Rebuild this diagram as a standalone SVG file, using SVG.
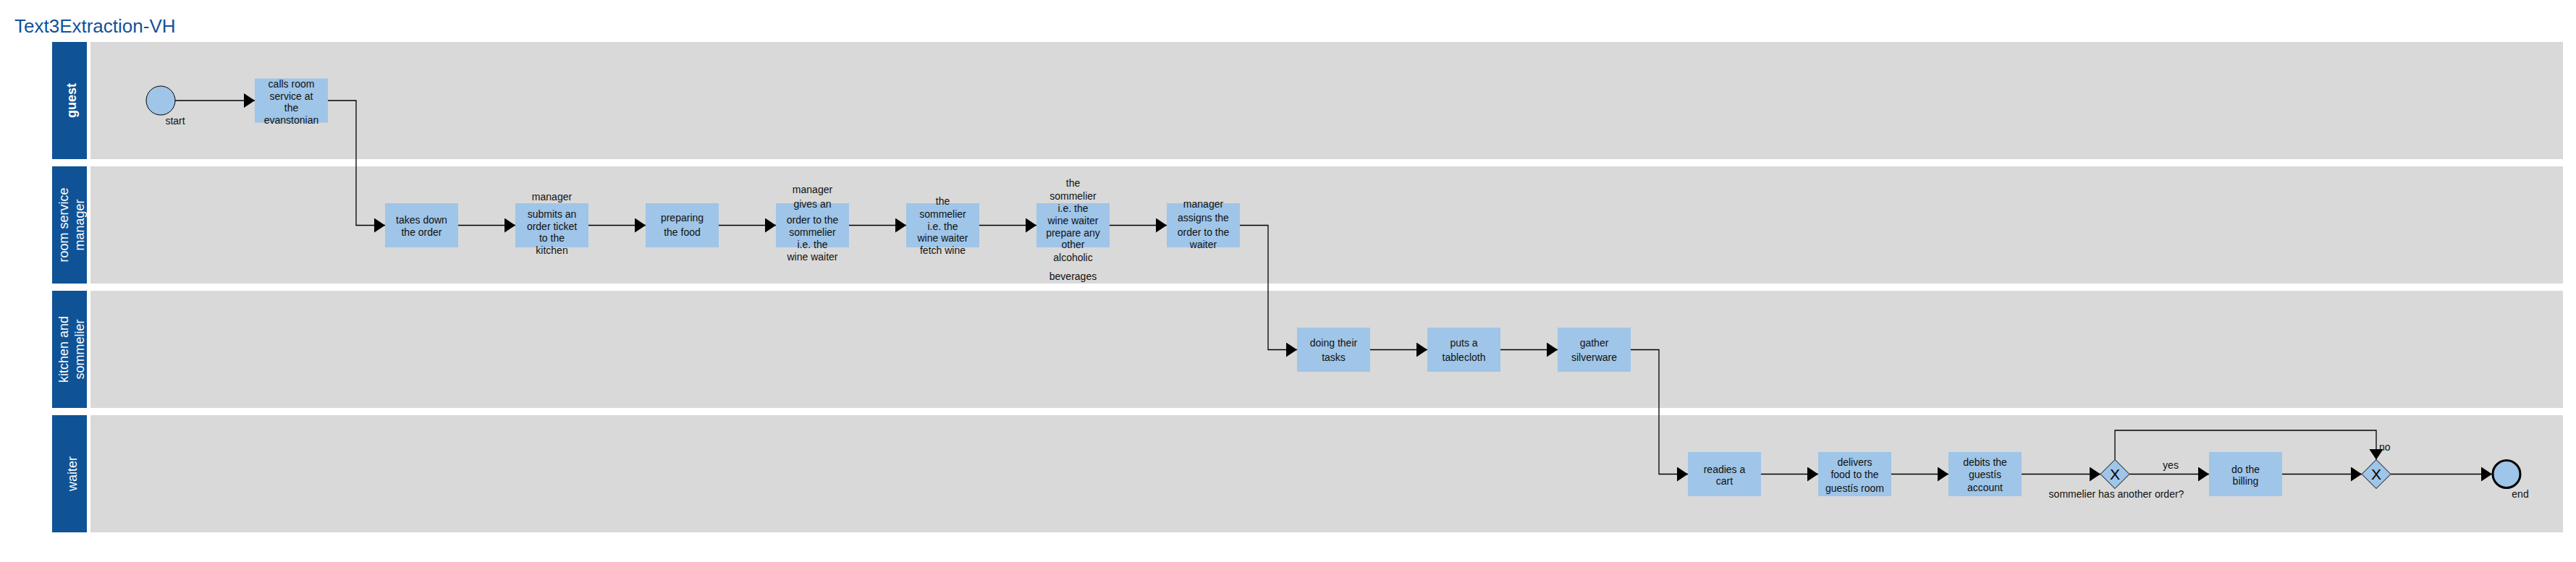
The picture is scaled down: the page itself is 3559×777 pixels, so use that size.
<svg xmlns="http://www.w3.org/2000/svg" width="3559" height="777" viewBox="0 0 3559 777">
<style>
.lane{fill:#D9D9D9}
.hdr{fill:#0F5396}
.hl{font-family:"Liberation Sans",Arial,sans-serif;font-size:18px;fill:#FFFFFF}
.task{fill:#9FC5E8}
.t{font-family:"Liberation Sans",Arial,sans-serif;font-size:14px;fill:#111111;text-anchor:middle}
.lbl{font-family:"Liberation Sans",Arial,sans-serif;font-size:14px;fill:#111111}
.gw{fill:#9FC5E8;stroke:#000;stroke-width:1}
.gx{font-family:"Liberation Sans",Arial,sans-serif;font-size:21px;fill:#000;text-anchor:middle}
.edge{fill:none;stroke:#000;stroke-width:1.3}
.title{font-family:"Liberation Sans",Arial,sans-serif;font-size:26px;fill:#12529A}
</style>
<defs>
<marker id="ah" markerUnits="userSpaceOnUse" markerWidth="15" markerHeight="20" refX="15" refY="10" orient="auto">
<path d="M0,0 L15,10 L0,20 Z" fill="#000"/>
</marker>
</defs>
<rect width="3559" height="777" fill="#FFFFFF"/>
<text class="title" x="20" y="45">Text3Extraction-VH</text>

<g id="lane-guest">
<rect class="lane" x="125" y="58" width="3416" height="162"/>
<rect class="hdr" x="72" y="58" width="48" height="162"/>
<text class="hl" text-anchor="middle" font-weight="bold" font-size="17" transform="translate(105,139) rotate(-90)">guest</text>
</g>
<g id="lane-rsm">
<rect class="lane" x="125" y="230" width="3416" height="162"/>
<rect class="hdr" x="72" y="230" width="48" height="162"/>
<text class="hl" text-anchor="middle" transform="translate(94,311) rotate(-90)">room service</text>
<text class="hl" text-anchor="middle" transform="translate(116,311) rotate(-90)">manager</text>
</g>
<g id="lane-kitchen">
<rect class="lane" x="125" y="402" width="3416" height="162"/>
<rect class="hdr" x="72" y="402" width="48" height="162"/>
<text class="hl" text-anchor="middle" transform="translate(94,483) rotate(-90)">kitchen and</text>
<text class="hl" text-anchor="middle" transform="translate(116,483) rotate(-90)">sommelier</text>
</g>
<g id="lane-waiter">
<rect class="lane" x="125" y="574" width="3416" height="162"/>
<rect class="hdr" x="72" y="574" width="48" height="162"/>
<text class="hl" text-anchor="middle" transform="translate(106,655) rotate(-90)">waiter</text>
</g>

<g id="connectors">
<path class="edge" d="M242,139 H352" marker-end="url(#ah)"/>
<path class="edge" d="M453,139 H492 V311.5 H532" marker-end="url(#ah)"/>
<path class="edge" d="M633,311.5 H712" marker-end="url(#ah)"/>
<path class="edge" d="M813,311.5 H892" marker-end="url(#ah)"/>
<path class="edge" d="M993,311.5 H1072" marker-end="url(#ah)"/>
<path class="edge" d="M1173,311.5 H1252" marker-end="url(#ah)"/>
<path class="edge" d="M1353,311.5 H1432" marker-end="url(#ah)"/>
<path class="edge" d="M1533,311.5 H1612" marker-end="url(#ah)"/>
<path class="edge" d="M1713,311.5 H1752 V483.5 H1792" marker-end="url(#ah)"/>
<path class="edge" d="M1893,483.5 H1972" marker-end="url(#ah)"/>
<path class="edge" d="M2073,483.5 H2152" marker-end="url(#ah)"/>
<path class="edge" d="M2253,483.5 H2292 V655.5 H2332" marker-end="url(#ah)"/>
<path class="edge" d="M2433,655.5 H2512" marker-end="url(#ah)"/>
<path class="edge" d="M2613,655.5 H2692" marker-end="url(#ah)"/>
<path class="edge" d="M2793,655.5 H2902" marker-end="url(#ah)"/>
<path class="edge" d="M2942,655.5 H3052" marker-end="url(#ah)"/>
<text class="lbl" x="2999" y="648" text-anchor="middle">yes</text>
<path class="edge" d="M2922,635.5 V595 H3283 V635.5" marker-end="url(#ah)"/>
<text class="lbl" x="3287" y="623">no</text>
<path class="edge" d="M3153,655.5 H3263" marker-end="url(#ah)"/>
<path class="edge" d="M3303,655.5 H3443" marker-end="url(#ah)"/>
</g>

<g id="start">
<circle cx="222" cy="139" r="20" fill="#9FC5E8" stroke="#000" stroke-width="1"/>
<text class="t" x="242" y="172">start</text>
</g>
<g id="calls-room-service">
<rect class="task" x="352" y="108.5" width="101" height="61"/>
<text class="t" x="402.5" y="121">calls room</text>
<text class="t" x="402.5" y="137.5">service at</text>
<text class="t" x="402.5" y="154">the</text>
<text class="t" x="402.5" y="170.5">evanstonian</text>
</g>

<g id="takes-down-order">
<rect class="task" x="532" y="281" width="101" height="61"/>
<text class="t" x="582.5" y="309">takes down</text>
<text class="t" x="582.5" y="326">the order</text>
</g>
<g id="submits-order-ticket">
<rect class="task" x="712" y="281" width="101" height="61"/>
<text class="t" x="762.5" y="277">manager</text>
<text class="t" x="762.5" y="301">submits an</text>
<text class="t" x="762.5" y="317.5">order ticket</text>
<text class="t" x="762.5" y="334">to the</text>
<text class="t" x="762.5" y="351">kitchen</text>
</g>
<g id="preparing-food">
<rect class="task" x="892" y="281" width="101" height="61"/>
<text class="t" x="942.5" y="306">preparing</text>
<text class="t" x="942.5" y="326">the food</text>
</g>
<g id="gives-order-sommelier">
<rect class="task" x="1072" y="281" width="101" height="61"/>
<text class="t" x="1122.5" y="267">manager</text>
<text class="t" x="1122.5" y="287">gives an</text>
<text class="t" x="1122.5" y="309">order to the</text>
<text class="t" x="1122.5" y="326">sommelier</text>
<text class="t" x="1122.5" y="343">i.e. the</text>
<text class="t" x="1122.5" y="360">wine waiter</text>
</g>
<g id="fetch-wine">
<rect class="task" x="1252" y="281" width="101" height="61"/>
<text class="t" x="1302.5" y="283">the</text>
<text class="t" x="1302.5" y="301">sommelier</text>
<text class="t" x="1302.5" y="317.5">i.e. the</text>
<text class="t" x="1302.5" y="334">wine waiter</text>
<text class="t" x="1302.5" y="351">fetch wine</text>
</g>
<g id="prepare-beverages">
<rect class="task" x="1432" y="281" width="101" height="61"/>
<text class="t" x="1482.5" y="258">the</text>
<text class="t" x="1482.5" y="276">sommelier</text>
<text class="t" x="1482.5" y="292.5">i.e. the</text>
<text class="t" x="1482.5" y="309.5">wine waiter</text>
<text class="t" x="1482.5" y="326.5">prepare any</text>
<text class="t" x="1482.5" y="343">other</text>
<text class="t" x="1482.5" y="360.5">alcoholic</text>
<text class="t" x="1482.5" y="387">beverages</text>
</g>
<g id="assigns-order-waiter">
<rect class="task" x="1612" y="281" width="101" height="61"/>
<text class="t" x="1662.5" y="287">manager</text>
<text class="t" x="1662.5" y="306">assigns the</text>
<text class="t" x="1662.5" y="326">order to the</text>
<text class="t" x="1662.5" y="343">waiter</text>
</g>

<g id="doing-tasks">
<rect class="task" x="1792" y="453" width="101" height="61"/>
<text class="t" x="1842.5" y="478.5">doing their</text>
<text class="t" x="1842.5" y="498.5">tasks</text>
</g>
<g id="puts-tablecloth">
<rect class="task" x="1972" y="453" width="101" height="61"/>
<text class="t" x="2022.5" y="478.5">puts a</text>
<text class="t" x="2022.5" y="498.5">tablecloth</text>
</g>
<g id="gather-silverware">
<rect class="task" x="2152" y="453" width="101" height="61"/>
<text class="t" x="2202.5" y="478.5">gather</text>
<text class="t" x="2202.5" y="498.5">silverware</text>
</g>

<g id="readies-cart">
<rect class="task" x="2332" y="625" width="101" height="61"/>
<text class="t" x="2382.5" y="653.5">readies a</text>
<text class="t" x="2382.5" y="670">cart</text>
</g>
<g id="delivers-food">
<rect class="task" x="2512" y="625" width="101" height="61"/>
<text class="t" x="2562.5" y="644">delivers</text>
<text class="t" x="2562.5" y="661">food to the</text>
<text class="t" x="2562.5" y="680">guestís room</text>
</g>
<g id="debits-account">
<rect class="task" x="2692" y="625" width="101" height="61"/>
<text class="t" x="2742.5" y="644">debits the</text>
<text class="t" x="2742.5" y="661">guestís</text>
<text class="t" x="2742.5" y="678.5">account</text>
</g>
<g id="gateway-another-order">
<path class="gw" d="M2922,635.5 L2942,655.5 L2922,675.5 L2902,655.5 Z"/>
<text class="gx" x="2922" y="663">X</text>
<text class="t" x="2924" y="688">sommelier has another order?</text>
</g>
<g id="do-billing">
<rect class="task" x="3052" y="625" width="101" height="61"/>
<text class="t" x="3102.5" y="653.5">do the</text>
<text class="t" x="3102.5" y="670">billing</text>
</g>
<g id="gateway-merge">
<path class="gw" d="M3283,635.5 L3303,655.5 L3283,675.5 L3263,655.5 Z"/>
<text class="gx" x="3283" y="663">X</text>
</g>
<g id="end">
<circle cx="3463" cy="655.5" r="19" fill="#9FC5E8" stroke="#000" stroke-width="3"/>
<text class="t" x="3482" y="688">end</text>
</g>
</svg>
